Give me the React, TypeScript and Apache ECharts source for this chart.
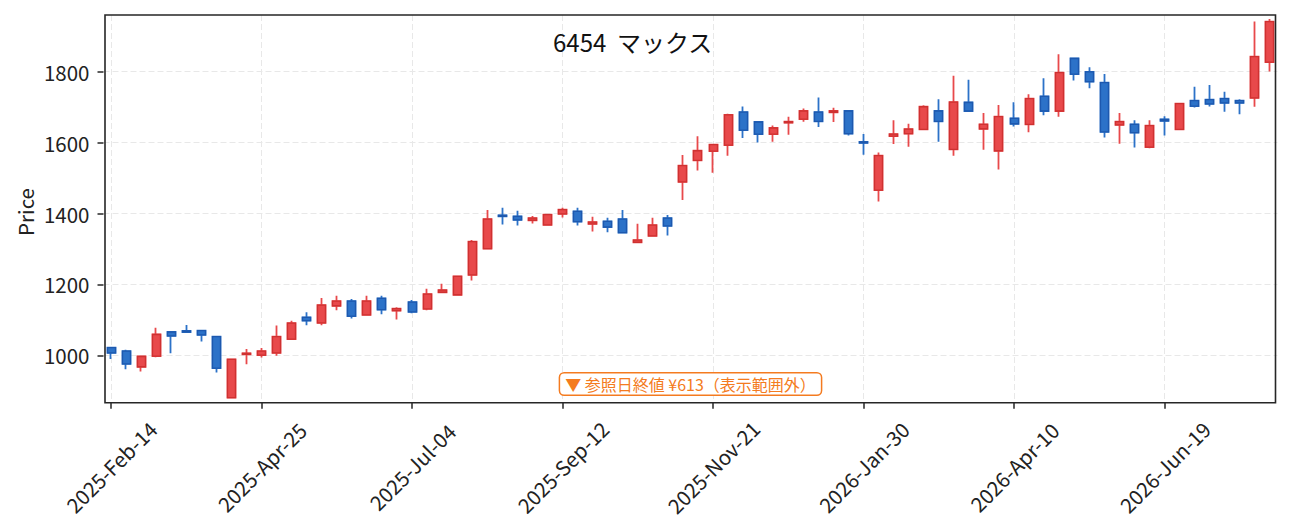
import React, { useEffect, useRef } from "react";
import * as echarts from "echarts";

const categories = [
  "2025-Feb-14", "2025-Feb-21", "2025-Feb-28", "2025-Mar-07", "2025-Mar-14", "2025-Mar-21", "2025-Mar-28",
  "2025-Apr-04", "2025-Apr-11", "2025-Apr-18", "2025-Apr-25", "2025-May-02", "2025-May-09", "2025-May-16",
  "2025-May-23", "2025-May-30", "2025-Jun-06", "2025-Jun-13", "2025-Jun-20", "2025-Jun-27", "2025-Jul-04",
  "2025-Jul-11", "2025-Jul-18", "2025-Jul-25", "2025-Aug-01", "2025-Aug-08", "2025-Aug-15", "2025-Aug-22",
  "2025-Aug-29", "2025-Sep-05", "2025-Sep-12", "2025-Sep-19", "2025-Sep-26", "2025-Oct-03", "2025-Oct-10",
  "2025-Oct-17", "2025-Oct-24", "2025-Oct-31", "2025-Nov-07", "2025-Nov-14", "2025-Nov-21", "2025-Nov-28",
  "2025-Dec-05", "2025-Dec-12", "2025-Dec-19", "2025-Dec-26", "2026-Jan-02", "2026-Jan-09", "2026-Jan-16",
  "2026-Jan-23", "2026-Jan-30", "2026-Feb-06", "2026-Feb-13", "2026-Feb-20", "2026-Feb-27", "2026-Mar-06",
  "2026-Mar-13", "2026-Mar-20", "2026-Mar-27", "2026-Apr-03", "2026-Apr-10", "2026-Apr-17", "2026-Apr-24",
  "2026-May-01", "2026-May-08", "2026-May-15", "2026-May-22", "2026-May-29", "2026-Jun-05", "2026-Jun-12",
  "2026-Jun-19", "2026-Jun-26", "2026-Jul-03", "2026-Jul-10", "2026-Jul-17", "2026-Jul-24", "2026-Jul-31",
  "2026-Aug-07",
];

const opens = [
  1022, 1012, 968, 998, 1066, 1069, 1070, 1053, 881, 1003,
  1001, 1007, 1046, 1107, 1092, 1140, 1153, 1114, 1161, 1126,
  1150, 1131, 1178, 1171, 1227, 1301, 1395, 1392, 1381, 1368,
  1399, 1406, 1371, 1378, 1384, 1319, 1337, 1387, 1489, 1550,
  1576, 1593, 1686, 1658, 1624, 1656, 1666, 1686, 1685, 1689,
  1602, 1466, 1618, 1625, 1637, 1689, 1581, 1713, 1639, 1577,
  1668, 1651, 1730, 1689, 1837, 1799, 1769, 1650, 1651, 1587,
  1665, 1637, 1718, 1721, 1724, 1718, 1726, 1827,
];

const closes = [
  1007, 976, 997, 1059, 1055, 1066, 1058, 964, 989, 1006,
  1012, 1053, 1091, 1098, 1142, 1153, 1111, 1153, 1129, 1132,
  1123, 1173, 1184, 1223, 1321, 1384, 1392, 1382, 1387, 1397,
  1411, 1377, 1376, 1362, 1346, 1325, 1367, 1365, 1535, 1577,
  1594, 1678, 1635, 1624, 1641, 1659, 1689, 1660, 1689, 1625,
  1599, 1563, 1624, 1638, 1701, 1660, 1714, 1689, 1651, 1673,
  1653, 1724, 1689, 1797, 1793, 1772, 1630, 1659, 1628, 1648,
  1661, 1710, 1703, 1709, 1712, 1712, 1842, 1941,
];

const lows = [
  990, 961, 955, 995, 1006, 1066, 1039, 952, 881, 975,
  994, 999, 1046, 1085, 1085, 1127, 1104, 1113, 1116, 1101,
  1119, 1127, 1176, 1171, 1211, 1300, 1369, 1366, 1372, 1368,
  1389, 1366, 1349, 1347, 1345, 1316, 1337, 1338, 1438, 1521,
  1515, 1563, 1613, 1600, 1602, 1622, 1659, 1644, 1658, 1620,
  1566, 1434, 1596, 1588, 1636, 1602, 1563, 1689, 1580, 1524,
  1645, 1629, 1677, 1673, 1775, 1753, 1614, 1597, 1586, 1584,
  1620, 1635, 1699, 1702, 1687, 1680, 1701, 1800,
];

const highs = [
  1024, 1016, 997, 1078, 1068, 1086, 1071, 1054, 989, 1018,
  1021, 1084, 1098, 1122, 1162, 1168, 1159, 1168, 1168, 1136,
  1156, 1188, 1202, 1223, 1325, 1410, 1416, 1408, 1393, 1397,
  1416, 1416, 1391, 1388, 1410, 1371, 1388, 1396, 1565, 1618,
  1594, 1681, 1702, 1658, 1648, 1673, 1696, 1727, 1698, 1689,
  1624, 1572, 1663, 1653, 1705, 1722, 1788, 1777, 1683, 1706,
  1714, 1736, 1781, 1849, 1837, 1812, 1793, 1683, 1663, 1663,
  1674, 1710, 1757, 1762, 1743, 1722, 1941, 1948,
];

const yTicks = [1000, 1200, 1400, 1600, 1800];
const yRange = [866.7, 1959.6];
const titleText = "6454  マックス";
const yName = "Price";
const noteText = "▼ 参照日終値 ¥613（表示範囲外）";

const FONT = '"Noto Sans CJK JP", "Noto Sans", sans-serif';
const RED = "#E8494B";
const RED_EDGE = "#CF3131";
const BLUE = "#2C72C8";
const BLUE_EDGE = "#1D58AE";
const ORANGE = "#F47B20";

export default function App() {
  const ref = useRef<HTMLDivElement>(null);

  useEffect(() => {
    document.body.style.margin = "0";
    if (!ref.current) return;
    const chart = echarts.init(ref.current, undefined, { renderer: "svg" });

    const fullData = categories.map((_, i) => [opens[i], closes[i], lows[i], highs[i]]);
    const bodyData = categories.map((_, i) => [
      opens[i],
      closes[i],
      Math.min(opens[i], closes[i]),
      Math.max(opens[i], closes[i]),
    ]);

    const gridLeft = 103.5;
    const gridRight = 13.6;
    const gridTop = 15;
    const gridBottom = 129.3;
    const W = 1291;
    const H = 532;

    chart.setOption({
      animation: false,
      backgroundColor: "#ffffff",
      textStyle: { fontFamily: FONT },
      grid: {
        left: gridLeft,
        right: gridRight,
        top: gridTop,
        bottom: gridBottom,
        show: false,
      },
      xAxis: {
        type: "category",
        data: categories,
        boundaryGap: true,
        axisLine: { show: false },
        axisTick: {
          show: true,
          alignWithLabel: true,
          interval: 9,
          length: 6,
          lineStyle: { color: "#262626", width: 1.5 },
        },
        axisLabel: {
          interval: 9,
          rotate: 45,
          align: "center",
          verticalAlign: "middle",
          margin: 64,
          fontSize: 20.5,
          color: "#222",
          fontFamily: FONT,
        },
        splitLine: {
          show: true,
          interval: 9,
          alignWithLabel: true,
          lineStyle: { color: "#e8e8e8", type: [6, 3], width: 1 },
        },
      },
      yAxis: {
        type: "value",
        min: yRange[0],
        max: yRange[1],
        splitNumber: 5,
        axisLine: { show: false },
        axisTick: {
          show: true,
          length: 6,
          customValues: yTicks,
          lineStyle: { color: "#262626", width: 1.5 },
        },
        axisLabel: {
          customValues: yTicks,
          formatter: (v: number) => String(v),
          margin: 14,
          fontSize: 20.5,
          color: "#222",
          fontFamily: FONT,
        },
        splitLine: {
          show: true,
          lineStyle: { color: "#e8e8e8", type: [6, 3], width: 1 },
        },
      },
      series: [
        {
          type: "candlestick",
          data: fullData,
          barWidth: 8.5,
          z: 2,
          itemStyle: {
            color: RED,
            color0: BLUE,
            borderColor: RED,
            borderColor0: BLUE,
            borderWidth: 1.8,
          },
        },
        {
          type: "candlestick",
          data: bodyData,
          barWidth: 8.5,
          z: 3,
          itemStyle: {
            color: RED,
            color0: BLUE,
            borderColor: RED_EDGE,
            borderColor0: BLUE_EDGE,
            borderWidth: 1.3,
          },
        },
      ],
      graphic: [
        {
          type: "rect",
          z: 100,
          silent: true,
          shape: { x: 105, y: gridTop, width: W - 105 - 15.5, height: H - gridBottom - gridTop },
          style: { fill: "none", stroke: "#262626", lineWidth: 1.6 },
        },
        {
          type: "text",
          z: 100,
          x: 553,
          y: 41,
          style: {
            text: titleText,
            fill: "#111",
            font: `24px ${FONT}`,
            textAlign: "left",
            textVerticalAlign: "middle",
          },
        },
        {
          type: "text",
          z: 100,
          x: 25,
          y: 212,
          rotation: Math.PI / 2,
          style: {
            text: yName,
            fill: "#222",
            font: `20.5px ${FONT}`,
            textAlign: "center",
            textVerticalAlign: "middle",
          },
        },
        {
          type: "text",
          z: 100,
          x: 690.5,
          y: 384,
          style: {
            text: noteText,
            fill: ORANGE,
            font: `16px ${FONT}`,
            textAlign: "center",
            textVerticalAlign: "middle",
            backgroundColor: "#ffffff",
            borderColor: ORANGE,
            borderWidth: 1.5,
            borderRadius: 4,
            padding: [3, 5, 2, 5],
          },
        },
      ],
    });

    return () => {
      chart.dispose();
    };
  }, []);

  return <div ref={ref} style={{ width: 1291, height: 532 }} />;
}
